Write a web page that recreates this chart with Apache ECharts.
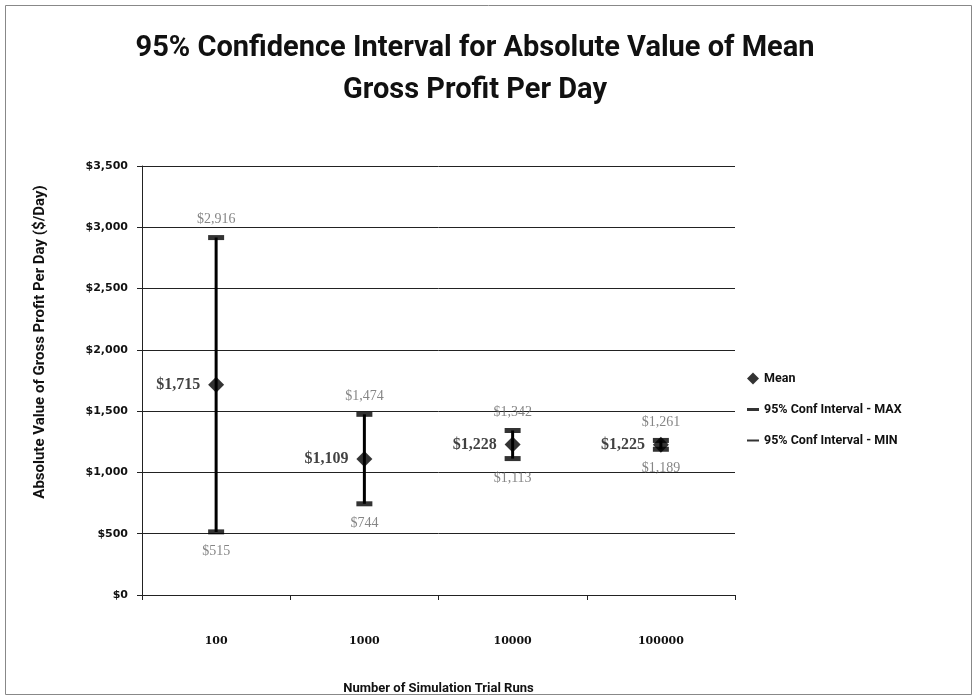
<!DOCTYPE html>
<html>
<head>
<meta charset="utf-8">
<script src="https://cdn.jsdelivr.net/npm/echarts@6/dist/echarts.min.js"></script>
<style>
  html, body { margin: 0; padding: 0; background: #fff; }
  #chart { width: 977px; height: 700px; }
</style>
</head>
<body>
<div id="chart"></div>
<script>
// number of simulation trial runs
var categories = ['100', '1000', '10000', '100000']
// values in $/day
var meanValues = [1715, 1109, 1228, 1225]
var maxValues = [2916, 1474, 1342, 1261]
var minValues = [515, 744, 1113, 1189]
var yTicks = [0, 500, 1000, 1500, 2000, 2500, 3000, 3500]

function money (v) {
  return '$' + String(v).replace(/\B(?=(\d{3})+(?!\d))/g, ',')
}

var rangeData = categories.map(function (c, i) {
  return [i, minValues[i], maxValues[i]]
})

var myChart = echarts.init(document.getElementById('chart'))
var option = {
  backgroundColor: '#fff',
  animation: false,
  title: {
    text: '95% Confidence Interval for Absolute Value of Mean\nGross Profit Per Day',
    left: 470,
    top: 23,
    textAlign: 'center',
    textStyle: {
      fontFamily: 'Roboto',
      fontSize: 29,
      fontWeight: 'bold',
      color: '#111',
      lineHeight: 42
    }
  },
  grid: {
    left: 142,
    right: 242,
    top: 166,
    bottom: 102
  },
  legend: {
    orient: 'vertical',
    left: 742,
    top: 367,
    itemGap: 18,
    itemWidth: 12,
    itemHeight: 12,
    textStyle: { fontFamily: 'Roboto', fontSize: 12.5, fontWeight: 'bold', color: '#111' },
    data: [
      { name: 'Mean', icon: 'diamond' },
      { name: '95% Conf Interval - MAX', icon: 'path://M0,4 L12,4 L12,7 L0,7 Z' },
      { name: '95% Conf Interval - MIN', icon: 'path://M0,5 L12,5 L12,7 L0,7 Z' }
    ]
  },
  xAxis: {
    type: 'category',
    data: categories,
    boundaryGap: true,
    name: 'Number of Simulation Trial Runs',
    nameLocation: 'middle',
    nameGap: 87,
    nameTextStyle: { fontFamily: 'Roboto', fontSize: 13, fontWeight: 'bold', color: '#111' },
    axisLine: { lineStyle: { color: '#222', width: 1 } },
    axisTick: { show: true, length: 5, lineStyle: { color: '#222' } },
    axisLabel: { margin: 41, fontFamily: 'DejaVu Serif', fontSize: 11, fontWeight: 'bold', color: '#111' }
  },
  yAxis: {
    type: 'value',
    min: 0,
    max: 3500,
    interval: 500,
    axisLine: { show: true, lineStyle: { color: '#222', width: 1 } },
    axisTick: { show: true, length: 5, lineStyle: { color: '#222' } },
    splitLine: { show: true, lineStyle: { color: '#222', width: 1 } },
    axisLabel: {
      margin: 14,
      fontFamily: 'DejaVu Sans',
      fontSize: 11,
      fontWeight: 'bold',
      color: '#111',
      formatter: function (v) { return yTicks.indexOf(v) >= 0 ? money(v) : '' }
    }
  },
  graphic: [
    {
      type: 'rect',
      shape: { x: 5.5, y: 5.5, width: 966, height: 689 },
      style: { fill: 'none', stroke: '#888', lineWidth: 1 },
      silent: true
    },
    {
      type: 'text',
      x: 40,
      y: 342,
      rotation: Math.PI / 2,
      style: {
        text: 'Absolute Value of Gross Profit Per Day ($/Day)',
        fontFamily: 'Roboto',
        fontSize: 15,
        fontWeight: 'bold',
        fill: '#111',
        align: 'center',
        verticalAlign: 'middle'
      }
    }
  ],
  series: [
    {
      name: 'range',
      type: 'custom',
      z: 2,
      renderItem: function (params, api) {
        var top = api.coord([api.value(0), api.value(2)])
        var bottom = api.coord([api.value(0), api.value(1)])
        return {
          type: 'line',
          shape: { x1: top[0], y1: top[1], x2: bottom[0], y2: bottom[1] },
          style: { stroke: '#000', lineWidth: 3 }
        }
      },
      encode: { x: 0, y: [1, 2] },
      data: rangeData
    },
    {
      name: '95% Conf Interval - MAX',
      type: 'scatter',
      z: 3,
      symbol: 'rect',
      symbolSize: [16, 5],
      itemStyle: { color: '#000' },
      label: {
        show: true,
        position: 'top',
        distance: 9,
        fontFamily: 'Liberation Serif',
        fontSize: 14,
        color: '#666',
        formatter: function (p) { return money(p.value) }
      },
      data: maxValues
    },
    {
      name: '95% Conf Interval - MIN',
      type: 'scatter',
      z: 3,
      symbol: 'rect',
      symbolSize: [16, 5],
      itemStyle: { color: '#000' },
      label: {
        show: true,
        position: 'bottom',
        distance: 10,
        fontFamily: 'Liberation Serif',
        fontSize: 14,
        color: '#666',
        formatter: function (p) { return money(p.value) }
      },
      data: minValues
    },
    {
      name: 'Mean',
      type: 'scatter',
      z: 4,
      symbol: 'diamond',
      symbolSize: 16,
      itemStyle: { color: '#000' },
      label: {
        show: true,
        position: 'left',
        distance: 8,
        fontFamily: 'Liberation Serif',
        fontSize: 16,
        fontWeight: 'bold',
        color: '#111',
        formatter: function (p) { return money(p.value) }
      },
      data: meanValues
    }
  ]
}
myChart.setOption(option)
</script>
</body>
</html>
